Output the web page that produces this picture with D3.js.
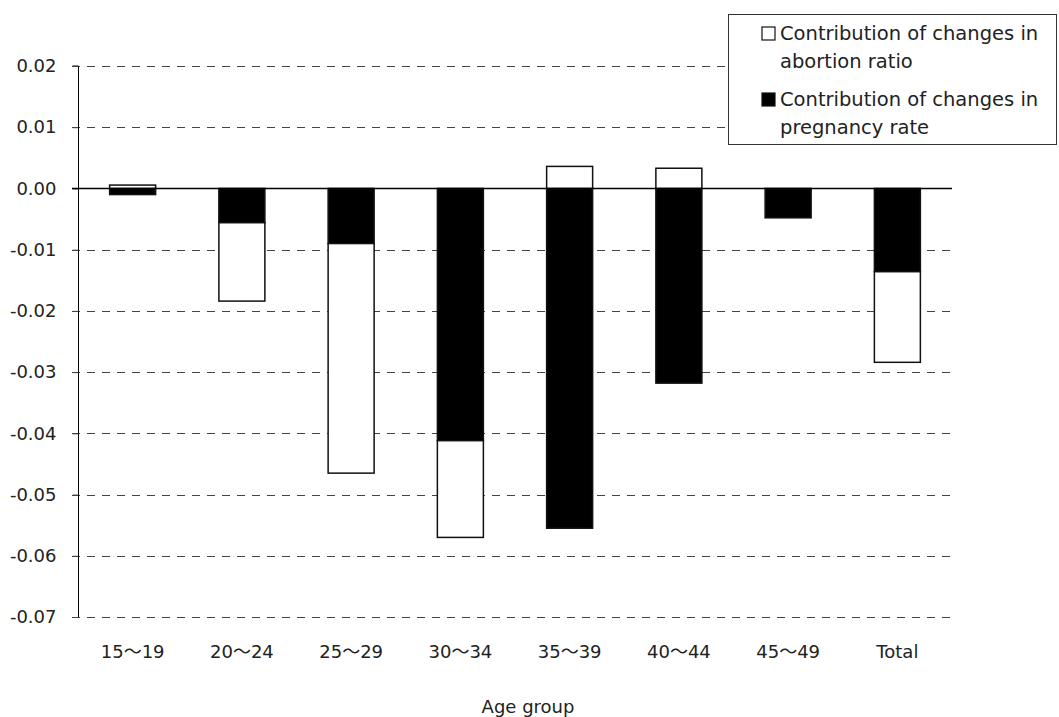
<!DOCTYPE html>
<html>
<head>
<meta charset="utf-8">
<script src="https://cdn.jsdelivr.net/npm/d3@7/dist/d3.min.js"></script>
<style>
  html, body { margin: 0; padding: 0; background: #fff; }
  svg { display: block; }
  text { font-family: "Century Gothic", "DejaVu Sans", sans-serif; fill: #222; }
</style>
</head>
<body>
<script>
const categories = ["15～19", "20～24", "25～29", "30～34", "35～39", "40～44", "45～49", "Total"];
const pregnancyRate = [-0.0010, -0.0056, -0.0090, -0.0412, -0.0555, -0.0318, -0.0048, -0.0136];
const abortionRatio = [0.00055, -0.0128, -0.0375, -0.0158, 0.0036, 0.0033, 0.0000, -0.0148];
const yTicks = [0.02, 0.01, 0.00, -0.01, -0.02, -0.03, -0.04, -0.05, -0.06, -0.07];
const seriesNames = ["Contribution of changes in abortion ratio", "Contribution of changes in pregnancy rate"];

const W = 1059, H = 717;
const svg = d3.select("body").append("svg").attr("width", W).attr("height", H);

const x = d3.scaleBand().domain(categories).range([78, 952]).paddingInner(0.579).paddingOuter(0.2895);
const y = d3.scaleLinear().domain([-0.07, 0.02]).range([617, 66]);

// gridlines
svg.append("g").selectAll("line").data(yTicks.filter(t => t !== 0)).join("line")
  .attr("x1", 72).attr("x2", 952)
  .attr("y1", d => Math.round(y(d)) + 0.5).attr("y2", d => Math.round(y(d)) + 0.5)
  .attr("stroke", "#444").attr("stroke-width", 1).attr("stroke-dasharray", "8,7");

// y axis
const yAxis = d3.axisLeft(y).tickValues(yTicks).tickFormat(d3.format(".2f")).tickSize(6).tickPadding(16);
const ga = svg.append("g").attr("transform", "translate(78.5,0)").call(yAxis);
ga.select(".domain").attr("stroke", "#000").attr("d", `M-6,${y(0.02)}H0V${y(-0.07)}`);
ga.selectAll(".tick line").attr("stroke", "#444");
ga.selectAll(".tick text").style("font-size", "18px").attr("fill", "#222")
  .text(d => d < 0 ? "-" + d3.format(".2f")(-d) : d3.format(".2f")(d));

// stacked bars
const rows = categories.map((c, i) => ({ c, preg: pregnancyRate[i], abo: abortionRatio[i] }));
const segs = [];
rows.forEach(r => {
  let neg = 0, pos = 0;
  [["preg", "#000"], ["abo", "#fff"]].forEach(([k, col]) => {
    const v = r[k];
    let y0, y1;
    if (v < 0) { y0 = neg; y1 = neg + v; neg = y1; }
    else { y0 = pos; y1 = pos + v; pos = y1; }
    if (v !== 0) segs.push({ c: r.c, y0, y1, col });
  });
});
svg.append("g").selectAll("rect").data(segs).join("rect")
  .attr("x", d => x(d.c))
  .attr("width", x.bandwidth())
  .attr("y", d => y(Math.max(d.y0, d.y1)))
  .attr("height", d => Math.abs(y(d.y0) - y(d.y1)))
  .attr("fill", d => d.col)
  .attr("stroke", "#111").attr("stroke-width", 1.5);

// zero line
svg.append("line").attr("x1", 72).attr("x2", 952).attr("y1", y(0)).attr("y2", y(0))
  .attr("stroke", "#000").attr("stroke-width", 1.5);

// x labels
const xAxis = d3.axisBottom(x).tickSize(0).tickPadding(0);
const gx = svg.append("g").attr("transform", "translate(0,652)").call(xAxis);
gx.select(".domain").remove();
gx.selectAll(".tick text").style("font-size", "18px").attr("dy", "0.35em").attr("fill", "#222")
  .each(function(d) {
    const t = d3.select(this);
    const parts = d.split("～");
    t.text(null);
    if (parts.length === 2) {
      t.append("tspan").text(parts[0]);
      t.append("tspan").style("font-family", "'Noto Sans CJK JP'").text("～");
      t.append("tspan").text(parts[1]);
    } else {
      t.text(d);
    }
  });

svg.append("text").attr("x", 528).attr("y", 707).attr("dy", "0.35em").attr("text-anchor", "middle")
  .style("font-size", "18px").text("Age group");

// legend
const lg = svg.append("g");
lg.append("rect").attr("x", 728.5).attr("y", 14.5).attr("width", 328).attr("height", 130)
  .attr("fill", "#fff").attr("stroke", "#333").attr("stroke-width", 1);
const legendRows = [
  { fill: "#fff", lines: ["Contribution of changes in", "abortion ratio"], y: 33 },
  { fill: "#000", lines: ["Contribution of changes in", "pregnancy rate"], y: 99 }
];
legendRows.forEach(r => {
  lg.append("rect").attr("x", 762).attr("y", r.y - 6).attr("width", 13).attr("height", 13)
    .attr("fill", r.fill).attr("stroke", "#111").attr("stroke-width", 1.2);
  r.lines.forEach((t, j) => {
    lg.append("text").attr("x", 780).attr("y", r.y + j * 28).attr("dy", "0.35em")
      .style("font-size", "19.5px").text(t);
  });
});
</script>
</body>
</html>
